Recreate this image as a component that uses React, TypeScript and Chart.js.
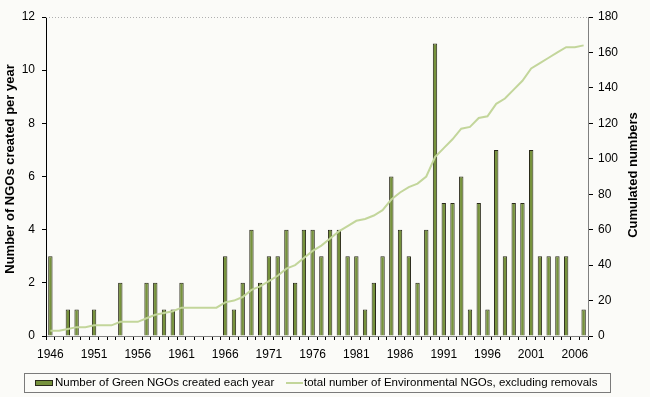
import React, { useEffect, useRef } from "react";
import { Chart, registerables } from "chart.js";

Chart.register(...registerables);

const years: string[] = [
  "1946", "1947", "1948", "1949", "1950", "1951", "1952", "1953", "1954", "1955",
  "1956", "1957", "1958", "1959", "1960", "1961", "1962", "1963", "1964", "1965",
  "1966", "1967", "1968", "1969", "1970", "1971", "1972", "1973", "1974", "1975",
  "1976", "1977", "1978", "1979", "1980", "1981", "1982", "1983", "1984", "1985",
  "1986", "1987", "1988", "1989", "1990", "1991", "1992", "1993", "1994", "1995",
  "1996", "1997", "1998", "1999", "2000", "2001", "2002", "2003", "2004", "2005",
  "2006", "2007",
];

const createdPerYear: number[] = [
  3, 0, 1, 1, 0, 1, 0, 0, 2, 0,
  0, 2, 2, 1, 1, 2, 0, 0, 0, 0,
  3, 1, 2, 4, 2, 3, 3, 4, 2, 4,
  4, 3, 4, 4, 3, 3, 1, 2, 3, 6,
  4, 3, 2, 4, 11, 5, 5, 6, 1, 5,
  1, 7, 3, 5, 5, 7, 3, 3, 3, 3,
  0, 1,
];

const cumulatedTotal: number[] = [
  3, 3, 4, 5, 5, 6, 6, 6, 8, 8,
  8, 10, 12, 13, 14, 16, 16, 16, 16, 16,
  19, 20, 22, 26, 28, 31, 34, 38, 40, 44,
  48, 51, 55, 59, 62, 65, 66, 68, 71, 77,
  81, 84, 86, 90, 101, 106, 111, 117, 118, 123,
  124, 131, 134, 139, 144, 151, 154, 157, 160, 163,
  163, 164,
];

const leftTicks: number[] = [0, 2, 4, 6, 8, 10, 12];
const rightTicks: number[] = [0, 20, 40, 60, 80, 100, 120, 140, 160, 180];

const barLabel = "Number of Green NGOs created each year";
const lineLabel = "total number of Environmental NGOs, excluding removals";
const leftTitle = "Number of NGOs created per year";
const rightTitle = "Cumulated numbers";

const BG = "#fbfbf8";
const BAR_FILL = "#76923c";
const BAR_BORDER = "#2a2a1a";
const LINE_COLOR = "#c3d69b";
const FONT = "'Liberation Sans', Arial, sans-serif";

const decorPlugin = {
  id: "decor",
  beforeDraw(chart: any) {
    const ctx = chart.ctx;
    ctx.save();
    ctx.fillStyle = BG;
    ctx.fillRect(0, 0, chart.width, chart.height);
    ctx.restore();
  },
  afterDraw(chart: any) {
    const ctx = chart.ctx;
    const area = chart.chartArea;
    ctx.save();
    // top dotted border
    ctx.strokeStyle = "#b0b0b0";
    ctx.lineWidth = 1;
    ctx.setLineDash([1, 2]);
    ctx.beginPath();
    ctx.moveTo(area.left, area.top + 0.5);
    ctx.lineTo(area.right, area.top + 0.5);
    ctx.stroke();
    ctx.setLineDash([]);

    // axis titles
    ctx.fillStyle = "#000";
    ctx.font = `bold 13px ${FONT}`;
    ctx.textAlign = "center";
    ctx.textBaseline = "middle";
    ctx.save();
    ctx.translate(10, 169);
    ctx.rotate(-Math.PI / 2);
    ctx.fillText(leftTitle, 0, 0);
    ctx.restore();
    ctx.save();
    ctx.translate(633, 175);
    ctx.rotate(-Math.PI / 2);
    ctx.fillText(rightTitle, 0, 0);
    ctx.restore();

    // legend
    const lx = 24, ly = 373, lw = 586, lh = 19;
    ctx.strokeStyle = "#7a7a7a";
    ctx.lineWidth = 1;
    ctx.strokeRect(lx + 0.5, ly + 0.5, lw, lh);
    const cy = ly + lh / 2 + 0.5;
    ctx.fillStyle = BAR_FILL;
    ctx.fillRect(35, cy - 3, 18, 6);
    ctx.strokeStyle = BAR_BORDER;
    ctx.strokeRect(35.5, cy - 2.5, 17, 5);
    ctx.font = `11.5px ${FONT}`;
    ctx.textAlign = "left";
    ctx.fillStyle = "#000";
    ctx.fillText(barLabel, 55, cy);
    ctx.strokeStyle = LINE_COLOR;
    ctx.lineWidth = 2;
    ctx.beginPath();
    ctx.moveTo(286, cy);
    ctx.lineTo(303, cy);
    ctx.stroke();
    ctx.fillText(lineLabel, 304, cy);
    ctx.restore();
  },
};

export default function App() {
  const ref = useRef<HTMLCanvasElement | null>(null);

  useEffect(() => {
    if (!ref.current) return;
    Chart.defaults.font.family = FONT;
    Chart.defaults.color = "#000";
    const chart = new Chart(ref.current, {
      type: "bar",
      data: {
        labels: years,
        datasets: [
          {
            type: "line",
            label: lineLabel,
            data: cumulatedTotal,
            yAxisID: "y2",
            borderColor: LINE_COLOR,
            backgroundColor: LINE_COLOR,
            borderWidth: 2,
            pointRadius: 0,
            tension: 0,
            order: 0,
          },
          {
            type: "bar",
            label: barLabel,
            data: createdPerYear,
            yAxisID: "y",
            backgroundColor: BAR_FILL,
            borderColor: BAR_BORDER,
            borderWidth: 1,
            barPercentage: 0.5,
            categoryPercentage: 1,
            order: 1,
          },
        ],
      },
      options: {
        responsive: false,
        animation: false,
        layout: { padding: { top: 17, bottom: 31, left: 0, right: 0 } },
        plugins: {
          legend: { display: false },
          tooltip: { enabled: false },
        },
        scales: {
          x: {
            type: "category",
            offset: true,
            grid: {
              offset: true,
              drawOnChartArea: false,
              drawTicks: true,
              tickLength: 4,
              tickColor: "#000",
            },
            border: { color: "#808080", width: 1 },
            ticks: {
              autoSkip: false,
              maxRotation: 0,
              minRotation: 0,
              padding: 7,
              font: { size: 12 },
              color: "#000",
              callback: (_v: any, i: number) => (i % 5 === 0 ? years[i] : ""),
            },
            afterFit: (s: any) => {
              s.height = 30;
            },
          },
          y: {
            position: "left",
            min: 0,
            max: 12,
            afterBuildTicks: (s: any) => {
              s.ticks = leftTicks.map((v) => ({ value: v }));
            },
            grid: {
              drawOnChartArea: false,
              drawTicks: true,
              tickLength: 4,
              tickColor: "#000",
            },
            border: { color: "#000", width: 1 },
            ticks: { padding: 7, font: { size: 12 }, color: "#000" },
            afterFit: (s: any) => {
              s.width = 46;
            },
          },
          y2: {
            position: "right",
            min: 0,
            max: 180,
            afterBuildTicks: (s: any) => {
              s.ticks = rightTicks.map((v) => ({ value: v }));
            },
            grid: {
              drawOnChartArea: false,
              drawTicks: true,
              tickLength: 5,
              tickColor: "#000",
            },
            border: { color: "#808080", width: 1 },
            ticks: { padding: 5, font: { size: 12 }, color: "#000" },
            afterFit: (s: any) => {
              s.width = 62;
            },
          },
        },
      },
      plugins: [decorPlugin],
    });
    return () => chart.destroy();
  }, []);

  return (
    <div style={{ position: "absolute", left: 0, top: 0, width: 650, height: 397, background: BG }}>
      <canvas ref={ref} width={650} height={397} style={{ display: "block", width: 650, height: 397 }} />
    </div>
  );
}
